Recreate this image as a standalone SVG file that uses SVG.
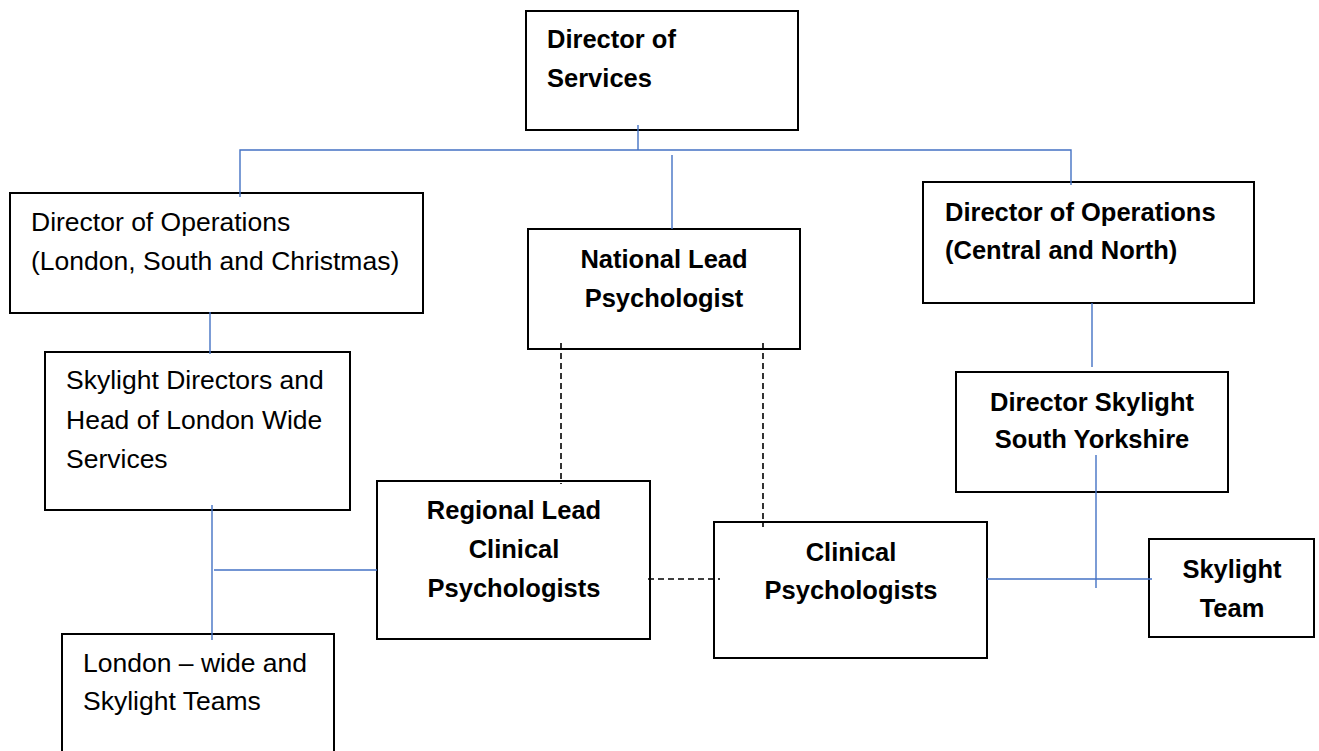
<svg xmlns="http://www.w3.org/2000/svg" width="1319" height="751" viewBox="0 0 1319 751">
<style>
.box{fill:#fff;stroke:#000;stroke-width:2}
.t{font-family:"Liberation Sans",Arial,sans-serif;font-size:26.5px;fill:#000}
.b{font-family:"Liberation Sans",Arial,sans-serif;font-size:25.5px;font-weight:bold;fill:#000}
.c{text-anchor:middle}
.blue{stroke:#4472C4;stroke-width:1.4;fill:none}
.dash{stroke:#000;stroke-width:1.6;stroke-dasharray:6 4;fill:none}
</style>
<rect width="1319" height="751" fill="#fff"/>
<g id="director-services">
<rect class="box" x="526" y="11" width="272" height="119"/>
<text class="b" x="547" y="48">Director of</text>
<text class="b" x="547" y="87">Services</text>
</g>
<g id="dir-ops-london">
<rect class="box" x="10" y="193" width="413" height="120"/>
<text class="t" x="31" y="231">Director of Operations</text>
<text class="t" x="31" y="270">(London, South and Christmas)</text>
</g>
<g id="national-lead">
<rect class="box" x="528" y="229" width="272" height="120"/>
<text class="b c" x="664" y="268">National Lead</text>
<text class="b c" x="664" y="307">Psychologist</text>
</g>
<g id="dir-ops-central">
<rect class="box" x="923" y="182" width="331" height="121"/>
<text class="b" x="945" y="221">Director of Operations</text>
<text class="b" x="945" y="259">(Central and North)</text>
</g>
<g id="skylight-directors">
<rect class="box" x="45" y="352" width="305" height="158"/>
<text class="t" x="66" y="389">Skylight Directors and</text>
<text class="t" x="66" y="429">Head of London Wide</text>
<text class="t" x="66" y="468">Services</text>
</g>
<g id="director-skylight-sy">
<rect class="box" x="956" y="372" width="272" height="120"/>
<text class="b c" x="1092" y="411">Director Skylight</text>
<text class="b c" x="1092" y="448">South Yorkshire</text>
</g>
<g id="regional-lead">
<rect class="box" x="377" y="481" width="273" height="158"/>
<text class="b c" x="514" y="519">Regional Lead</text>
<text class="b c" x="514" y="558">Clinical</text>
<text class="b c" x="514" y="597">Psychologists</text>
</g>
<g id="clinical-psychologists">
<rect class="box" x="714" y="522" width="273" height="136"/>
<text class="b c" x="851" y="561">Clinical</text>
<text class="b c" x="851" y="599">Psychologists</text>
</g>
<g id="skylight-team">
<rect class="box" x="1149" y="539" width="165" height="98"/>
<text class="b c" x="1232" y="578">Skylight</text>
<text class="b c" x="1232" y="617">Team</text>
</g>
<g id="london-wide">
<rect class="box" x="62" y="634" width="272" height="140"/>
<text class="t" x="83" y="672">London – wide and</text>
<text class="t" x="83" y="710">Skylight Teams</text>
</g>
<g id="connectors">
<line class="blue" x1="638" y1="125" x2="638" y2="150"/>
<polyline class="blue" points="240,197 240,150 1071,150 1071,185"/>
<line class="blue" x1="672" y1="155" x2="672" y2="229"/>
<line class="blue" x1="210" y1="312" x2="210" y2="354"/>
<line class="blue" x1="1092" y1="303" x2="1092" y2="367"/>
<line class="blue" x1="212" y1="505" x2="212" y2="640"/>
<line class="blue" x1="214" y1="570" x2="377" y2="570"/>
<line class="blue" x1="1096" y1="455" x2="1096" y2="588"/>
<line class="blue" x1="987" y1="579" x2="1152" y2="579"/>
<line class="dash" x1="561" y1="343" x2="561" y2="484"/>
<line class="dash" x1="763" y1="343" x2="763" y2="527"/>
<line class="dash" x1="648" y1="579" x2="720" y2="579"/>
</g>
</svg>
